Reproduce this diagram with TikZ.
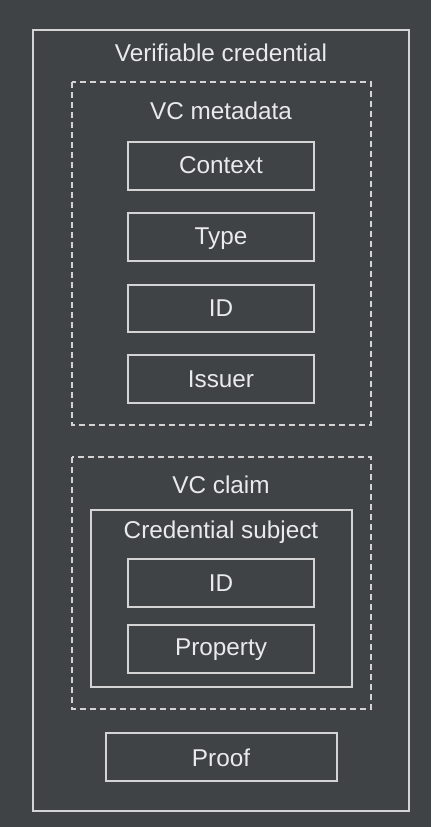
\documentclass[tikz,border=0pt]{standalone}
\usepackage{fontspec}
\setmainfont{Liberation Sans}
\definecolor{bg}{HTML}{404346}
\definecolor{ln}{HTML}{D4D4D4}
\definecolor{tx}{HTML}{E8EAED}
\begin{document}
\begin{tikzpicture}[x=1pt,y=-1pt,
  box/.style={draw=ln,line width=1.4pt},
  dbox/.style={draw=ln,line width=1.4pt,dash pattern=on 6pt off 4pt},
  lbl/.style={text=tx,font=\fontsize{24.3}{27}\selectfont,inner sep=0pt}]
\fill[bg] (0,0) rectangle (431,827);
\useasboundingbox (0,0) rectangle (431,827);
\draw[box] (33,30) rectangle (409,811);
\draw[dbox] (72,82) rectangle (371,425);
\draw[box] (128,142) rectangle (314,190);
\draw[box] (128,213) rectangle (314,261);
\draw[box] (128,285) rectangle (314,332);
\draw[box] (128,355) rectangle (314,403);
\draw[dbox] (72,457) rectangle (371,709);
\draw[box] (91,510) rectangle (352,687);
\draw[box] (128,559) rectangle (314,607);
\draw[box] (128,625) rectangle (314,673);
\draw[box] (106,733) rectangle (337,781);
\node[lbl] (t1) at (221,52.5) {Verifiable credential};
\node[lbl] (t2) at (221,110.5) {VC metadata};
\node[lbl] (t3) at (221,165.5) {Context};
\node[lbl] (t4) at (221,238.5) {Type};
\node[lbl] (t5) at (221,308.5) {ID};
\node[lbl] (t6) at (221,379.5) {Issuer};
\node[lbl] (t7) at (221,484.5) {VC claim};
\node[lbl] (t8) at (221,532.5) {Credential subject};
\node[lbl] (t9) at (221,583.5) {ID};
\node[lbl] (t10) at (221,649.5) {Property};
\node[lbl] (t11) at (221,757.5) {Proof};
\end{tikzpicture}
\end{document}
